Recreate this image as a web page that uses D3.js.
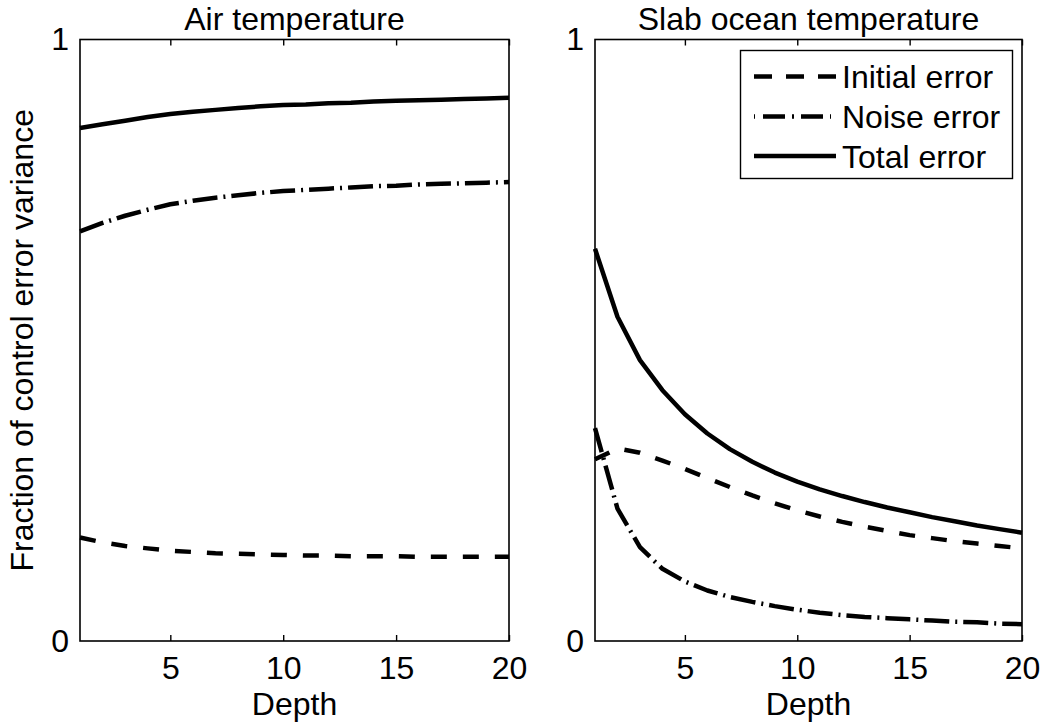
<!DOCTYPE html>
<html>
<head>
<meta charset="utf-8">
<script src="https://cdn.jsdelivr.net/npm/d3@7"></script>
<style>
  html, body { margin: 0; padding: 0; background: #fff; }
  svg { display: block; }
  text { font-family: "Liberation Sans", Arial, Helvetica, sans-serif; fill: #000; }
</style>
</head>
<body>
<script>
// ---------- DATA ----------
const depth = [1,2,3,4,5,6,7,8,9,10,11,12,13,14,15,16,17,18,19,20];

const airInitial = [0.172,0.164,0.158,0.154,0.150,0.148,0.146,0.145,0.144,0.143,0.142,0.142,0.141,0.141,0.141,0.140,0.140,0.140,0.140,0.140];
const airNoise   = [0.681,0.695,0.707,0.717,0.726,0.732,0.737,0.741,0.745,0.748,0.750,0.752,0.754,0.756,0.757,0.759,0.760,0.761,0.762,0.763];
const airTotal   = [0.853,0.859,0.865,0.871,0.876,0.880,0.883,0.886,0.889,0.891,0.892,0.894,0.895,0.897,0.898,0.899,0.900,0.901,0.902,0.903];

const slabInitial = [0.302,0.320,0.313,0.300,0.286,0.271,0.256,0.242,0.229,0.217,0.207,0.198,0.190,0.183,0.176,0.171,0.166,0.162,0.158,0.154];
const slabNoise   = [0.354,0.220,0.156,0.120,0.099,0.084,0.073,0.065,0.058,0.052,0.047,0.043,0.040,0.038,0.036,0.034,0.032,0.031,0.029,0.028];
const slabTotal   = [0.652,0.539,0.467,0.417,0.377,0.345,0.319,0.298,0.280,0.265,0.252,0.241,0.231,0.222,0.214,0.206,0.199,0.192,0.186,0.180];

const panelTitles = ["Air temperature", "Slab ocean temperature"];
const seriesNames = ["Initial error", "Noise error", "Total error"];
const xTickValues = [5, 10, 15, 20];
const yTickValues = [0, 1];
const xLabel = "Depth";
const yLabel = "Fraction of control error variance";

// ---------- LAYOUT ----------
const W = 1044, H = 725;
const FS = 32;
const yTop = 39.5, yBottom = 641;
const panels = [
  { x0: 80,  x1: 509,  title: panelTitles[0], series: [airInitial, airNoise, airTotal] },
  { x0: 595, x1: 1022, title: panelTitles[1], series: [slabInitial, slabNoise, slabTotal] }
];
const styles = [
  { dash: "16,16" },
  { dash: "25,6,2,6" },
  { dash: null }
];
const LW = 4.5;

const svg = d3.select("body").append("svg").attr("width", W).attr("height", H);

const y = d3.scaleLinear().domain([0, 1]).range([yBottom, yTop]);

panels.forEach((p, pi) => {
  const x = d3.scaleLinear().domain([1, 20]).range([p.x0, p.x1]);
  const g = svg.append("g");

  // lines
  const line = d3.line().x((d, i) => x(depth[i])).y(d => y(d));
  p.series.forEach((s, si) => {
    g.append("path")
      .datum(s)
      .attr("d", line)
      .attr("fill", "none")
      .attr("stroke", "#000")
      .attr("stroke-width", LW)
      .attr("stroke-linejoin", "round")
      .attr("stroke-dasharray", styles[si].dash);
  });

  // axes frame
  g.append("rect")
    .attr("x", p.x0).attr("y", yTop)
    .attr("width", p.x1 - p.x0).attr("height", yBottom - yTop)
    .attr("fill", "none").attr("stroke", "#000").attr("stroke-width", 1.6);

  // bottom axis (ticks inward, labels below)
  const xb = d3.axisBottom(x).tickValues(xTickValues).tickSize(-6).tickPadding(15).tickFormat(d3.format("d"));
  const gb = g.append("g").attr("transform", `translate(0,${yBottom})`).call(xb);
  gb.select(".domain").remove();
  gb.selectAll(".tick line").attr("stroke-width", 1.4);
  gb.selectAll("text").attr("font-size", FS).attr("font-family", "Liberation Sans, Arial, sans-serif").attr("fill", "#000");

  // top axis ticks
  const xt = d3.axisTop(x).tickValues(xTickValues).tickSize(-6).tickFormat("");
  const gt = g.append("g").attr("transform", `translate(0,${yTop})`).call(xt);
  gt.select(".domain").remove();
  gt.selectAll(".tick line").attr("stroke-width", 1.4);

  // left axis labels
  const yl = d3.axisLeft(y).tickValues(yTickValues).tickSize(0).tickPadding(pi === 0 ? 11 : 11).tickFormat(d3.format("d"));
  const gl = g.append("g").attr("transform", `translate(${p.x0},0)`).call(yl);
  gl.select(".domain").remove();
  gl.selectAll("text").attr("font-size", FS).attr("font-family", "Liberation Sans, Arial, sans-serif").attr("fill", "#000");

  // title
  g.append("text")
    .attr("x", (p.x0 + p.x1) / 2).attr("y", 30)
    .attr("text-anchor", "middle").attr("font-size", FS)
    .text(p.title);

  // x label
  g.append("text")
    .attr("x", (p.x0 + p.x1) / 2).attr("y", 715)
    .attr("text-anchor", "middle").attr("font-size", FS)
    .text(xLabel);
});

// y label
svg.append("text")
  .attr("transform", `translate(33,${(yTop + yBottom) / 2}) rotate(-90)`)
  .attr("text-anchor", "middle").attr("font-size", FS)
  .text(yLabel);

// legend in right panel
const lg = svg.append("g");
lg.append("rect")
  .attr("x", 740.5).attr("y", 50.5).attr("width", 272).attr("height", 128)
  .attr("fill", "#fff").attr("stroke", "#000").attr("stroke-width", 1.4);
const rowsY = [76.5, 116.5, 156];
seriesNames.forEach((name, i) => {
  lg.append("line")
    .attr("x1", 754).attr("x2", 836)
    .attr("y1", rowsY[i]).attr("y2", rowsY[i])
    .attr("stroke", "#000").attr("stroke-width", LW)
    .attr("stroke-dasharray", i === 0 ? "18,14" : (i === 1 ? "1,8,22,7,2,7,22,7" : null));
  lg.append("text")
    .attr("x", 842).attr("y", rowsY[i])
    .attr("dy", "0.36em")
    .attr("font-size", FS)
    .text(name);
});
</script>
</body>
</html>
